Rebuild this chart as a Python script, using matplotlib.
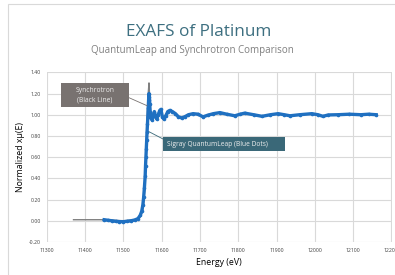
import numpy as np
import matplotlib.pyplot as plt
from matplotlib.patches import Rectangle

# synchrotron reference (black line)
sync_e = [11370, 11450, 11500, 11530, 11545, 11552, 11556, 11559, 11561, 11563,
          11565, 11567, 11569, 11572, 11576, 11580, 11585, 11590, 11597, 11603,
          11610, 11620, 11635, 11650, 11665, 11685, 11710, 11750, 11790, 11815,
          11860, 11905, 11935, 11990, 12020, 12040, 12100, 12160]
sync_mu = [0.01, 0.01, 0.00, 0.01, 0.04, 0.12, 0.30, 0.60, 0.85, 1.05,
           1.20, 1.30, 1.15, 0.98, 0.96, 1.02, 0.97, 1.00, 1.05, 0.96,
           1.00, 1.04, 1.01, 0.97, 0.99, 1.01, 0.98, 1.015, 0.99, 1.015,
           0.985, 1.01, 0.99, 1.01, 0.985, 1.00, 1.005, 1.00]

# Sigray QuantumLeap (blue dots)
ql_e = [11450, 11460, 11470, 11480, 11490, 11500, 11510, 11520, 11530, 11538,
        11544, 11548, 11551, 11553, 11555, 11557, 11558, 11559, 11560, 11561,
        11562, 11563, 11564, 11565, 11566, 11567, 11568, 11569, 11570, 11572,
        11575, 11578, 11581, 11584, 11587, 11591, 11595, 11598, 11602, 11606,
        11611, 11616, 11621, 11628, 11636, 11644, 11652, 11660, 11670, 11682,
        11695, 11708, 11720, 11735, 11752, 11770, 11791, 11805, 11817, 11840,
        11862, 11884, 11904, 11920, 11935, 11960, 11992, 12008, 12021, 12035,
        12060, 12090, 12120, 12140, 12160]
ql_mu = [0.01, 0.005, 0.0, -0.005, -0.008, -0.008, -0.005, 0.0, 0.008, 0.02,
         0.05, 0.09, 0.15, 0.22, 0.31, 0.42, 0.52, 0.60, 0.68, 0.76,
         0.84, 0.91, 0.98, 1.06, 1.14, 1.20, 1.17, 1.10, 1.03, 0.97,
         0.95, 0.99, 1.03, 0.98, 0.96, 1.00, 1.04, 1.05, 0.98, 0.96,
         0.99, 1.03, 1.04, 1.03, 1.01, 0.98, 0.97, 0.98, 1.00, 1.01,
         1.005, 0.98, 0.995, 1.01, 1.02, 1.005, 0.99, 1.005, 1.015, 1.00,
         0.985, 1.00, 1.01, 1.00, 0.99, 1.00, 1.01, 1.00, 0.985, 0.998,
         1.00, 1.005, 1.00, 1.005, 1.00]

xticks = np.arange(11300, 12201, 100)
yticks = np.arange(-0.2, 1.41, 0.2)

W, H = 395, 275
plt.rcParams['font.family'] = ['Open Sans', 'DejaVu Sans']
fig = plt.figure(figsize=(W / 100, H / 100), dpi=100)
fig.add_artist(Rectangle((8 / W, -0.1), 1.1, (H - 4) / H + 0.1, transform=fig.transFigure,
                         fill=False, edgecolor='#d9d9d9', lw=0.8))

ax = fig.add_axes([46.7 / W, 33 / H, (391.5 - 46.7) / W, (242 - 72.3) / H])
ax.plot(sync_e, sync_mu, color='#7f7f7f', lw=1.0, zorder=2)
ax.plot(ql_e, ql_mu, color='#1f70c1', lw=2.4, marker='o', ms=2.6, mew=0, zorder=3)

ax.set_xlim(11300, 12200)
ax.set_ylim(-0.2, 1.4)
ax.set_xticks(xticks)
ax.set_yticks(yticks)
ax.set_xticklabels([str(v) for v in xticks])
ax.set_yticklabels(['%.2f' % v for v in yticks])
ax.tick_params(labelsize=3.7, length=0, pad=4, colors='#404040')
ax.grid(True, color='#d9d9d9', lw=0.8)
for s in ax.spines.values():
    s.set_visible(False)
ax.set_axisbelow(True)
ax.set_xlabel('Energy (eV)', fontsize=6.3, labelpad=4)
ax.set_ylabel('Normalized xμ(E)', fontsize=6.3, labelpad=3)

fig.text(198.5 / W, 1 - 32 / H, 'EXAFS of Platinum', ha='center', va='center',
         fontsize=12.3, color='#3d6f80')
fig.text(192 / W, 1 - 50 / H, 'QuantumLeap and Synchrotron Comparison', ha='center',
         va='center', fontsize=7, color='#7f7f7f')

# callout boxes
fig.add_artist(Rectangle((61 / W, 1 - 107 / H), 68 / W, 24 / H, transform=fig.transFigure,
                         facecolor='#787270', edgecolor='none', zorder=5))
fig.text(95 / W, 1 - 95 / H, 'Synchrotron\n(Black Line)', ha='center', va='center',
         fontsize=4.9, color='#eeeeee', linespacing=1.6, zorder=6)
fig.add_artist(Rectangle((163 / W, 1 - 151 / H), 122 / W, 14 / H, transform=fig.transFigure,
                         facecolor='#3a6878', edgecolor='none', zorder=5))
fig.text(217 / W, 1 - 144 / H, 'Sigray QuantumLeap (Blue Dots)', ha='center', va='center',
         fontsize=4.8, color='#eeeeee', zorder=6)

ax.annotate('', xy=(11562, 1.085), xytext=(129 / W, 1 - 97.7 / H), textcoords='figure fraction',
            arrowprops=dict(arrowstyle='-', color='#787270', lw=0.6, shrinkA=0, shrinkB=0))
ax.annotate('', xy=(11567, 0.84), xytext=(163 / W, 1 - 139 / H), textcoords='figure fraction',
            arrowprops=dict(arrowstyle='-', color='#3a6878', lw=0.6, shrinkA=0, shrinkB=0))

fig.savefig('out.png', dpi=100, facecolor='white')
